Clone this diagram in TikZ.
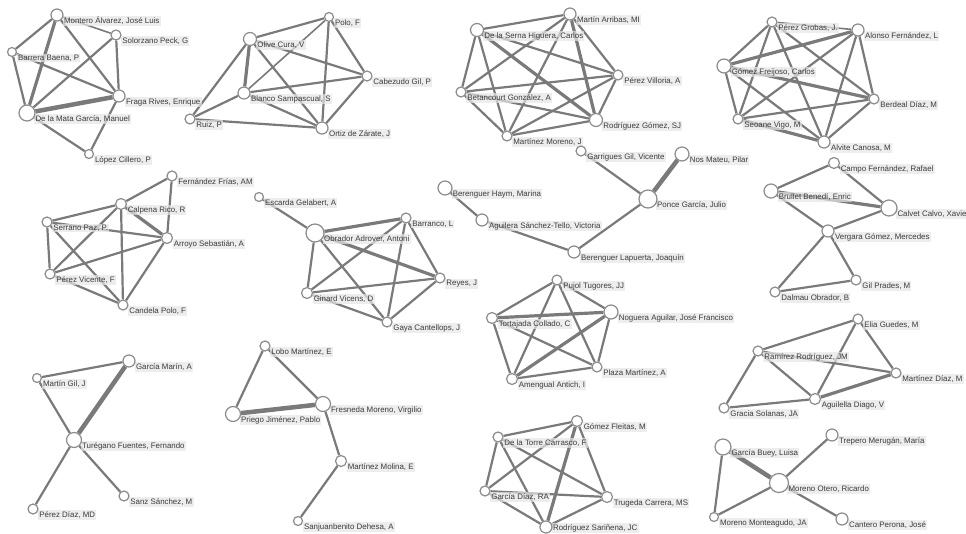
\documentclass[tikz,border=0pt]{standalone}
\usepackage{fontspec}
\setmainfont{Liberation Sans}
\pgfdeclarelayer{bg}
\pgfdeclarelayer{labels}
\pgfdeclarelayer{edges}
\pgfsetlayers{bg,edges,labels,main}
\definecolor{edgec}{HTML}{7A7A7A}
\definecolor{ringc}{HTML}{8C8C8C}
\definecolor{lblbg}{HTML}{E6E6E6}
\definecolor{lbltx}{HTML}{3C3C3C}
\tikzset{
 pt/.style={circle, draw=ringc, line width=1.2pt, fill=white, inner sep=0pt},
 lbl/.style={fill=lblbg, fill opacity=0.7, text opacity=1, text=lbltx, inner sep=1.2pt, font=\fontsize{7.9}{9}\selectfont, anchor=west},
 edg/.style={draw=edgec, line width=2.2pt},
 edgthin/.style={draw=edgec, line width=1.6pt},
 edgthick/.style={draw=edgec, line width=3.2pt},
 edgvthick/.style={draw=edgec, line width=4.5pt},
}
\newcommand\personaat[6]{%
 \node[pt, minimum size={2*#4pt}] (#1) at (#2,#3) {};
 \begin{pgfonlayer}{labels}\node[lbl] (#1-l) at ([xshift={0.7*#4+1.5}, yshift={-#6}]#1.center) {#5};\end{pgfonlayer}%
}
\newcommand\persona[5]{\personaat{#1}{#2}{#3}{#4}{#5}{6}}
\begin{document}
\begin{tikzpicture}[x=1pt,y=-1pt]
\begin{pgfonlayer}{bg}
\fill[white] (0,0) rectangle (966,534);
\end{pgfonlayer}
\useasboundingbox (0,0) rectangle (966,534);
% cluster 1
\persona{mon}{57}{15}{6}{Montero Álvarez, José Luis}
\persona{sol}{116}{35}{5}{Solorzano Peck, G}
\persona{bar}{12}{52}{4.5}{Barrera Baena, P}
\persona{fra}{119}{96}{6}{Fraga Rives, Enrique}
\persona{mat}{27}{113}{8}{De la Mata García, Manuel}
\persona{lop}{89}{154}{4.5}{López Cillero, P}
% cluster 2
\persona{pol}{329}{17}{4.5}{Polo, F}
\persona{oli}{250}{39}{6.5}{Olive Cura, V}
\persona{cab}{367}{76}{5}{Cabezudo Gil, P}
\persona{bla}{244}{93}{6}{Blanco Sampascual, S}
\persona{rui}{190}{119}{5}{Ruiz, P}
\persona{ort}{322}{128}{6}{Ortiz de Zárate, J}
% cluster 3
\persona{mar}{570}{14}{6}{Martín Arribas, MI}
\persona{ser}{477}{30}{6.5}{De la Serna Higuera, Carlos}
\persona{pvi}{618}{75}{5}{Pérez Villoria, A}
\persona{bet}{461}{92}{5}{Betancourt González, A}
\persona{rgo}{596}{120}{6.5}{Rodríguez Gómez, SJ}
\persona{mmo}{507}{136}{5}{Martínez Moreno, J}
% cluster 4
\persona{pgr}{772}{22}{5}{Pérez Grobas, J.}
\persona{alo}{858}{30}{6}{Alonso Fernández, L}
\persona{gfr}{724}{66}{7}{Gómez Freijoso, Carlos}
\persona{ber}{874}{99}{5}{Berdeal Díaz, M}
\persona{seo}{738}{119}{5}{Seoane Vigo, M}
\persona{alv}{824}{142}{6}{Alvite Canosa, M}
% cluster 5
\persona{ffr}{172}{176}{5}{Fernández Frías, AM}
\persona{cal}{121}{204}{5.5}{Calpena Rico, R}
\persona{srr}{47}{222}{5}{Serrano Paz, P.}
\persona{arr}{167}{238}{5.5}{Arroyo Sebastián, A}
\persona{pvc}{50}{274}{5}{Pérez Vicente, F}
\persona{can}{123}{305}{5}{Candela Polo, F}
% cluster 6
\persona{esc}{259}{197}{4.5}{Escarda Gelabert, A}
\persona{obr}{315}{233}{9}{Obrador Adrover, Antoni}
\persona{brr}{406}{218}{5}{Barranco, L}
\persona{rey}{440}{278}{5}{Reyes, J}
\persona{gin}{307}{293}{5.5}{Ginard Vicens, D}
\persona{gay}{387}{322}{5}{Gaya Cantellops, J}
% cluster 7
\persona{bhy}{445}{188}{7}{Berenguer Haym, Marina}
\persona{agu}{482}{220}{6}{Aguilera Sánchez-Tello, Victoria}
\persona{blp}{574}{252}{6}{Berenguer Lapuerta, Joaquín}
\persona{pon}{648}{199}{9}{Ponce García, Julio}
\persona{gar}{581}{151}{5}{Garrigues Gil, Vicente}
\persona{nos}{682}{154}{7}{Nos Mateu, Pilar}
% cluster 8
\persona{cam}{834}{163}{5.5}{Campo Fernández, Rafael}
\persona{bru}{771}{191}{7}{Brullet Benedí, Enric}
\persona{clv}{889}{208}{8}{Calvet Calvo, Xavie}
\persona{ver}{828}{231}{6}{Vergara Gómez, Mercedes}
\persona{gil}{856}{280}{5}{Gil Prades, M}
\persona{dal}{775}{292}{5}{Dalmau Obrador, B}
% cluster 9
\persona{gma}{129}{361}{6}{García Marín, A}
\persona{mgi}{37}{378}{4.5}{Martín Gil, J}
\persona{tur}{74}{440}{7.5}{Turégano Fuentes, Fernando}
\persona{san}{124}{496}{5}{Sanz Sánchez, M}
\persona{pdi}{33}{509}{5}{Pérez Díaz, MD}
% cluster 10
\persona{lob}{265}{346}{5}{Lobo Martínez, E}
\persona{pri}{233}{414}{7.5}{Priego Jiménez, Pablo}
\persona{fre}{323}{404}{7.5}{Fresneda Moreno, Virgilio}
\persona{mmol}{341}{461}{5.5}{Martínez Molina, E}
\persona{sjb}{298}{521}{4.5}{Sanjuanbenito Dehesa, A}
% cluster 11
\persona{puj}{557}{280}{5}{Pujol Tugores, JJ}
\persona{tor}{492}{318}{5.5}{Tortajada Collado, C}
\persona{nog}{611}{312}{7}{Noguera Aguilar, José Francisco}
\persona{pla}{597}{367}{5}{Plaza Martínez, A}
\persona{ame}{512}{379}{5.5}{Amengual Antich, I}
% cluster 12
\persona{gfl}{577}{421}{5.5}{Gómez Fleitas, M}
\persona{tre}{498}{437}{5}{De la Torre Carrasco, F}
\persona{gdi}{485}{491}{5}{García Díaz, RA}
\persona{tru}{607}{497}{5.5}{Trugeda Carrera, MS}
\personaat{rsa}{546}{527}{6}{Rodríguez Sariñena, JC}{1}
% cluster 13
\persona{eli}{858}{319}{5}{Elia Guedes, M}
\persona{ram}{758}{351}{5}{Ramírez Rodríguez, JM}
\persona{mdi}{896}{373}{5}{Martínez Díaz, M}
\persona{agl}{815}{399}{5.5}{Aguilella Diago, V}
\persona{gra}{724}{408}{5}{Gracia Solanas, JA}
% cluster 14
\persona{gbu}{723}{447}{8}{García Buey, Luisa}
\persona{trp}{832}{435}{6}{Trepero Merugán, María}
\persona{mot}{779}{483}{9.5}{Moreno Otero, Ricardo}
\persona{mmt}{714}{517}{4.5}{Moreno Monteagudo, JA}
\persona{cnt}{842}{519}{6}{Cantero Perona, José}
\begin{pgfonlayer}{edges}
\foreach \a/\b in {mon/bar, mon/fra, bar/mat, bar/fra, sol/mat, sol/fra, mat/lop, fra/lop,
 oli/pol, oli/rui, oli/cab, oli/ort, pol/ort, pol/cab, bla/cab, bla/rui, bla/ort, cab/ort, rui/ort,
 ser/mar, ser/bet, ser/mmo, ser/pvi, mar/bet, mar/mmo, mar/pvi, bet/pvi, bet/rgo, bet/mmo, pvi/mmo, pvi/rgo, mmo/rgo,
 pgr/gfr, pgr/seo, pgr/alv, pgr/ber, alo/seo, alo/alv, alo/ber, gfr/seo, gfr/alv, seo/ber, ber/alv,
 ffr/cal, ffr/arr, cal/srr, cal/pvc, cal/can, srr/arr, srr/pvc, srr/can, pvc/arr, pvc/can, arr/can,
 esc/obr, obr/gin, obr/gay, brr/gin, brr/rey, brr/gay, gin/rey, gin/gay, rey/gay,
 bhy/agu, agu/blp, blp/pon, pon/gar,
 cam/bru, cam/clv, bru/ver, clv/ver, ver/gil, ver/dal, dal/gil,
 gma/mgi, mgi/tur, tur/san, tur/pdi,
 lob/pri, lob/fre, fre/mmol, mmol/sjb,
 puj/tor, puj/nog, puj/ame, puj/pla, tor/ame, tor/pla, nog/pla, ame/pla,
 gfl/tre, gfl/gdi, gfl/tru, tre/gdi, tre/tru, tre/rsa, gdi/tru, gdi/rsa, tru/rsa,
 eli/ram, eli/agl, eli/mdi, ram/mdi, ram/agl, ram/gra, gra/agl,
 gbu/mmt, mot/trp, mot/mmt, mot/cnt}
 \draw[edg] (\a) -- (\b);
\foreach \a/\b in {mon/sol, pol/bla, pgr/alo}
 \draw[edgthin] (\a) -- (\b);
\foreach \a/\b in {mon/mat, oli/bla, ser/rgo, mar/rgo, alo/gfr, gfr/ber, seo/alv, cal/arr, obr/brr, obr/rey,
 bru/clv, tor/nog, nog/ame, gfl/rsa, agl/mdi}
 \draw[edgthick] (\a) -- (\b);
\foreach \a/\b in {mat/fra, pon/nos, gma/tur, pri/fre, gbu/mot}
 \draw[edgvthick] (\a) -- (\b);
\end{pgfonlayer}
\end{tikzpicture}
\end{document}
